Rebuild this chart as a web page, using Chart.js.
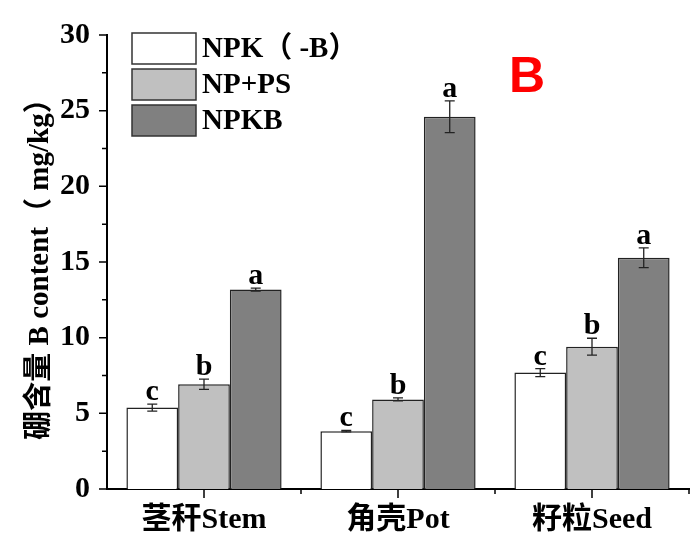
<!DOCTYPE html>
<html>
<head>
<meta charset="utf-8">
<script src="https://cdn.jsdelivr.net/npm/chart.js@4"></script>
<style>
  html, body { margin: 0; padding: 0; background: #fff; }
  #wrap { width: 692px; height: 534px; }
</style>
</head>
<body>
<div id="wrap"><canvas id="myChart" width="692" height="534"></canvas></div>
<script>
// categories and series
const categories = ['茎秆Stem', '角壳Pot', '籽粒Seed'];
const seriesNames = ['NPK（ -B）', 'NP+PS', 'NPKB'];
const npkNoB = [5.38, 3.82, 7.69];
const npPs = [6.92, 5.92, 9.40];
const npkB = [13.18, 24.6, 15.28];
// error bar half widths
const npkNoBErr = [0.23, 0.05, 0.27];
const npPsErr = [0.34, 0.10, 0.56];
const npkBErr = [0.10, 1.05, 0.65];
// significance letters
const npkNoBSig = ['c', 'c', 'c'];
const npPsSig = ['b', 'b', 'b'];
const npkBSig = ['a', 'a', 'a'];
const yTicks = [0, 5, 10, 15, 20, 25, 30];

const serif = "'Liberation Serif', 'Noto Sans CJK SC', serif";
const fills = ['#ffffff', '#c0c0c0', '#808080'];

const datasets = [
    { label: seriesNames[0], data: npkNoB, err: npkNoBErr, sig: npkNoBSig },
    { label: seriesNames[1], data: npPs, err: npPsErr, sig: npPsSig },
    { label: seriesNames[2], data: npkB, err: npkBErr, sig: npkBSig },
].map((d, i) => ({
    ...d,
    backgroundColor: fills[i],
    borderColor: '#222',
    borderWidth: 1.5,
    borderSkipped: 'bottom',
    categoryPercentage: 0.8,
    barPercentage: 1.0,
}));

// error bars, letters, ticks, legend and panel tag
const decorPlugin = {
    id: 'decor',
    afterDatasetsDraw(chart) {
        const { ctx, scales: { x, y } } = chart;
        ctx.save();
        chart.data.datasets.forEach((ds, i) => {
            const meta = chart.getDatasetMeta(i);
            meta.data.forEach((bar, j) => {
                const v = ds.data[j];
                const e = ds.err[j];
                const top = y.getPixelForValue(v + e);
                const bot = y.getPixelForValue(v - e);
                const cx = bar.x;
                ctx.strokeStyle = '#222';
                ctx.lineWidth = 1.3;
                ctx.beginPath();
                ctx.moveTo(cx, top); ctx.lineTo(cx, bot);
                ctx.moveTo(cx - 5, top); ctx.lineTo(cx + 5, top);
                ctx.moveTo(cx - 5, bot); ctx.lineTo(cx + 5, bot);
                ctx.stroke();
                ctx.fillStyle = '#000';
                ctx.font = 'bold 30px ' + serif;
                ctx.textAlign = 'center';
                ctx.textBaseline = 'alphabetic';
                ctx.fillText(ds.sig[j], cx, top - 4);
            });
        });
        ctx.restore();
    },
    afterDraw(chart) {
        const { ctx, scales: { x, y }, chartArea } = chart;
        ctx.save();
        ctx.strokeStyle = '#000';
        ctx.lineWidth = 1.5;
        ctx.beginPath();
        // y ticks: major every 5, minor in between
        for (let v = 0; v <= 30; v += 2.5) {
            const py = y.getPixelForValue(v);
            const len = v % 5 === 0 ? 8 : 5;
            ctx.moveTo(chartArea.left, py);
            ctx.lineTo(chartArea.left - len, py);
        }
        // x ticks: major at categories, minor at boundaries
        categories.forEach((c, i) => {
            const px = x.getPixelForValue(i);
            ctx.moveTo(px, chartArea.bottom);
            ctx.lineTo(px, chartArea.bottom + 9);
            const bx = x.getPixelForValue(i + 0.5);
            ctx.moveTo(bx, chartArea.bottom);
            ctx.lineTo(bx, chartArea.bottom + 5);
        });
        ctx.stroke();

        // legend
        const lx = 132, ly = 33, bw = 64, bh = 31, gap = 36;
        chart.data.datasets.forEach((ds, i) => {
            const top = ly + i * gap;
            ctx.fillStyle = ds.backgroundColor;
            ctx.fillRect(lx, top, bw, bh);
            ctx.strokeStyle = '#333';
            ctx.lineWidth = 1.5;
            ctx.strokeRect(lx, top, bw, bh);
            ctx.fillStyle = '#000';
            ctx.font = 'bold 29px ' + serif;
            ctx.textAlign = 'left';
            ctx.textBaseline = 'middle';
            ctx.fillText(ds.label, lx + bw + 6, top + bh / 2 + 1);
        });

        // panel tag
        ctx.fillStyle = '#ff0000';
        ctx.font = "bold 50px 'Liberation Sans', Arial, sans-serif";
        ctx.textAlign = 'left';
        ctx.textBaseline = 'alphabetic';
        ctx.fillText('B', 509, 92);
        ctx.restore();
    }
};

const ctx = document.getElementById('myChart').getContext('2d');
window.myChart = new Chart(ctx, {
    type: 'bar',
    data: { labels: categories, datasets },
    options: {
        responsive: false,
        animation: false,
        layout: { padding: { top: 21, right: 3, left: 0, bottom: 0 } },
        plugins: {
            legend: { display: false },
            tooltip: { enabled: false },
        },
        scales: {
            x: {
                grid: { display: false, drawTicks: false },
                border: { display: true, color: '#000', width: 2 },
                ticks: {
                    color: '#000',
                    padding: 13,
                    font: { family: serif, size: 30, weight: 'bold' },
                },
                afterFit: (s) => { s.height = 45; },
            },
            y: {
                min: 0,
                max: 30,
                afterBuildTicks: (s) => { s.ticks = yTicks.map(v => ({ value: v })); },
                grid: { display: false, drawTicks: false },
                border: { display: true, color: '#000', width: 2 },
                ticks: {
                    color: '#000',
                    padding: 17,
                    font: { family: serif, size: 30, weight: 'bold' },
                },
                title: {
                    display: true,
                    text: '硼含量 B content（ mg/kg）',
                    color: '#000',
                    padding: { top: 23, bottom: 0 },
                    font: { family: serif, size: 29, weight: 'bold' },
                },
                afterFit: (s) => { s.width = 107; },
            },
        },
    },
    plugins: [decorPlugin],
});
</script>
</body>
</html>
